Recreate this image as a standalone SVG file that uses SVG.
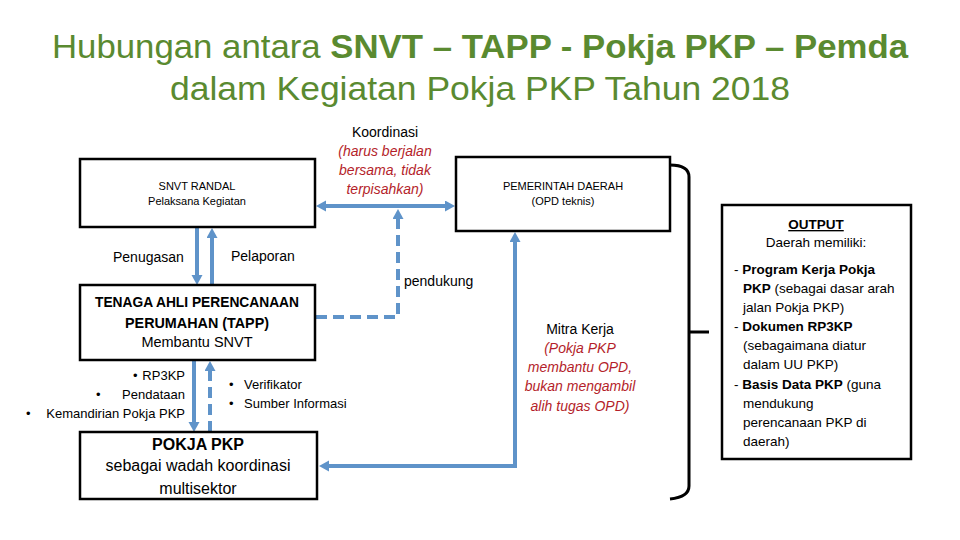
<svg xmlns="http://www.w3.org/2000/svg" width="960" height="540" viewBox="0 0 960 540">
<defs>
<style>
.t{font-family:"Liberation Sans","Open Sans",sans-serif;fill:#000}
.title{font-family:"Liberation Sans","Open Sans",sans-serif;fill:#5a8a30;font-size:34px}
.box{fill:#fff;stroke:#000;stroke-width:2.5}
.red{fill:#b41e2a;font-style:italic}
.con{fill:none;stroke:#5f93c9;stroke-width:4}
.dash{stroke-dasharray:11 6}
.mid{text-anchor:middle}
.end{text-anchor:end}
.b{font-weight:bold}
</style>
<marker id="ah" markerUnits="userSpaceOnUse" markerWidth="12" markerHeight="12" refX="2" refY="5.5" orient="auto-start-reverse">
<path d="M0,0 L10,5.5 L0,11 z" fill="#5f93c9"/>
</marker>
</defs>
<rect width="960" height="540" fill="#fff"/>

<g id="title">
<text class="title mid" x="480" y="58" textLength="856" lengthAdjust="spacingAndGlyphs">Hubungan antara <tspan font-weight="bold">SNVT – TAPP - Pokja PKP – Pemda</tspan></text>
<text class="title mid" x="480" y="100" textLength="620" lengthAdjust="spacingAndGlyphs">dalam Kegiatan Pokja PKP Tahun 2018</text>
</g>

<g id="connectors">
<line class="con" x1="324" y1="206" x2="447" y2="206" marker-start="url(#ah)" marker-end="url(#ah)"/>
<polyline class="con dash" points="316,317 398,317 398,217" marker-end="url(#ah)"/>
<polyline class="con" points="515,240 515,466 327,466" marker-start="url(#ah)" marker-end="url(#ah)"/>
<line class="con" x1="197" y1="228" x2="197" y2="277" marker-end="url(#ah)"/>
<line class="con" x1="212" y1="285" x2="212" y2="236" marker-end="url(#ah)"/>
<line class="con" x1="194" y1="361" x2="194" y2="424" marker-end="url(#ah)"/>
<line class="con dash" x1="210" y1="432" x2="210" y2="369" marker-end="url(#ah)"/>
<path d="M670,165 Q689,165 689,177 L689,486 Q689,497 670,499" fill="none" stroke="#000" stroke-width="3"/>
<path d="M689,332 L709,332" fill="none" stroke="#000" stroke-width="3"/>
</g>

<g id="label-koordinasi">
<text class="t mid" x="385" y="137" font-size="14">Koordinasi</text>
<text class="t red mid" x="385" y="156" font-size="14">(harus berjalan</text>
<text class="t red mid" x="385" y="175" font-size="14">bersama, tidak</text>
<text class="t red mid" x="385" y="194" font-size="14">terpisahkan)</text>
</g>

<g id="snvt">
<rect class="box" x="80" y="159" width="235" height="68"/>
<text class="t mid" x="197" y="190" font-size="11">SNVT RANDAL</text>
<text class="t mid" x="197" y="205" font-size="11">Pelaksana Kegiatan</text>
</g>

<g id="pemda">
<rect class="box" x="456" y="157" width="214" height="74"/>
<text class="t mid" x="563" y="190" font-size="11">PEMERINTAH DAERAH</text>
<text class="t mid" x="563" y="205" font-size="11">(OPD teknis)</text>
</g>

<g id="labels-snvt-tapp">
<text class="t" x="113" y="262" font-size="14">Penugasan</text>
<text class="t" x="231" y="261" font-size="14">Pelaporan</text>
<text class="t" x="404" y="286" font-size="14">pendukung</text>
</g>

<g id="tapp">
<rect class="box" x="80" y="285" width="235" height="75"/>
<text class="t mid b" x="197" y="307" font-size="14.5" textLength="204" lengthAdjust="spacingAndGlyphs">TENAGA AHLI PERENCANAAN</text>
<text class="t mid b" x="197" y="328" font-size="14.5" textLength="144" lengthAdjust="spacingAndGlyphs">PERUMAHAN (TAPP)</text>
<text class="t mid" x="197" y="347" font-size="14.5">Membantu SNVT</text>
</g>

<g id="labels-tapp-pokja">
<text class="t" x="133" y="380" font-size="13">•</text>
<text class="t end" x="185" y="380" font-size="13">RP3KP</text>
<text class="t" x="96" y="399" font-size="13">•</text>
<text class="t end" x="185" y="399" font-size="13">Pendataan</text>
<text class="t" x="26" y="418" font-size="13">•</text>
<text class="t end" x="185" y="418" font-size="13">Kemandirian Pokja PKP</text>
<text class="t" x="229" y="389" font-size="13">•</text>
<text class="t" x="244" y="389" font-size="13">Verifikator</text>
<text class="t" x="229" y="408" font-size="13">•</text>
<text class="t" x="244" y="408" font-size="13">Sumber Informasi</text>
</g>

<g id="pokja">
<rect class="box" x="80" y="432" width="237" height="67"/>
<text class="t mid b" x="198" y="450" font-size="16">POKJA PKP</text>
<text class="t mid" x="198" y="471" font-size="16">sebagai wadah koordinasi</text>
<text class="t mid" x="198" y="494" font-size="16">multisektor</text>
</g>

<g id="label-mitra">
<text class="t mid" x="580" y="334" font-size="14">Mitra Kerja</text>
<text class="t red mid" x="580" y="353" font-size="14">(Pokja PKP</text>
<text class="t red mid" x="580" y="372" font-size="14">membantu OPD,</text>
<text class="t red mid" x="580" y="391" font-size="14">bukan mengambil</text>
<text class="t red mid" x="580" y="411" font-size="14">alih tugas OPD)</text>
</g>

<g id="output">
<rect class="box" x="722" y="205" width="189" height="254"/>
<text class="t mid b" x="816" y="229" font-size="13.5" text-decoration="underline">OUTPUT</text>
<text class="t mid" x="816" y="247" font-size="13.5">Daerah memiliki:</text>
<text class="t" x="734" y="274" font-size="13.5">- <tspan font-weight="bold">Program Kerja Pokja</tspan></text>
<text class="t" x="743" y="293" font-size="13.5"><tspan font-weight="bold">PKP</tspan> (sebagai dasar arah</text>
<text class="t" x="743" y="312" font-size="13.5">jalan Pokja PKP)</text>
<text class="t" x="734" y="331" font-size="13.5">- <tspan font-weight="bold">Dokumen RP3KP</tspan></text>
<text class="t" x="743" y="350" font-size="13.5">(sebagaimana diatur</text>
<text class="t" x="743" y="369" font-size="13.5">dalam UU PKP)</text>
<text class="t" x="734" y="389" font-size="13.5">- <tspan font-weight="bold">Basis Data PKP</tspan> (guna</text>
<text class="t" x="743" y="408" font-size="13.5">mendukung</text>
<text class="t" x="743" y="427" font-size="13.5">perencanaan PKP di</text>
<text class="t" x="743" y="446" font-size="13.5">daerah)</text>
</g>
</svg>
